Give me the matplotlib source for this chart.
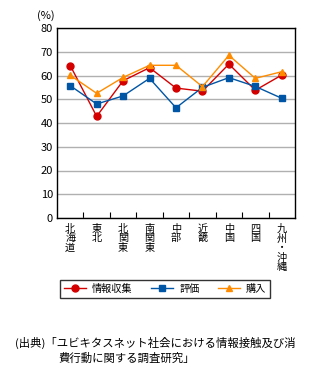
import numpy as np
import matplotlib
matplotlib.use('Agg')
import matplotlib.pyplot as plt
from matplotlib.ticker import FixedLocator

plt.rcParams['font.family'] = ['Noto Sans CJK JP', 'DejaVu Sans']

regions = ['北海道', '東北', '北関東', '南関東', '中部', '近畿', '中国', '四国', '九州・沖縄']
info = [64.2, 42.8, 57.8, 63.3, 54.7, 53.4, 64.8, 53.8, 60.2]
evaluation = [55.7, 48.0, 51.4, 58.8, 46.4, 55.0, 59.1, 55.4, 50.4]
purchase = [60.1, 52.5, 59.2, 64.3, 64.3, 55.3, 68.5, 58.8, 61.6]

fig = plt.figure(figsize=(3.32, 3.76), dpi=100)
ax = fig.add_axes([57/332, 1-218/376, (295-57)/332, (218-28)/376])

x = np.arange(len(regions))
ax.plot(x, info, color='#d40000', lw=1, marker='o', ms=5, label='情報収集', zorder=3)
ax.plot(x, evaluation, color='#0055a5', lw=1, marker='s', ms=5, label='評価', zorder=3)
ax.plot(x, purchase, color='#ff8c00', lw=1, marker='^', ms=5, label='購入', zorder=3)

ax.set_xlim(-0.5, len(regions)-0.5)
ax.set_ylim(0, 80)
ax.set_yticks(range(0, 81, 10))
ax.yaxis.grid(True, color='#b0b0b0', lw=1)
ax.set_axisbelow(True)
ax.tick_params(axis='y', length=0, labelsize=8, pad=3)
ax.set_xticks(x)
ax.set_xticklabels(['\n'.join(r) for r in regions], fontsize=7.3, linespacing=0.95, va='top')
ax.tick_params(axis='x', which='major', length=0, pad=4)
ax.xaxis.set_minor_locator(FixedLocator(np.arange(0.5, len(regions)-1, 1)))
ax.tick_params(axis='x', which='minor', direction='in', length=4, width=0.8)
for s in ax.spines.values():
    s.set_linewidth(1)
    s.set_color('black')

fig.text(37/332, 1-16/376, '(%)', fontsize=8, va='center', ha='left')

leg = fig.legend(loc='center', bbox_to_anchor=(165/332, 1-289/376), ncol=3, fontsize=7.3,
                 frameon=True, fancybox=False, edgecolor='black', handlelength=2.2,
                 columnspacing=1.8, borderpad=0.35, handletextpad=0.6)
leg.get_frame().set_linewidth(1)

fig.text(15/332, 1-343/376, '(出典)「ユビキタスネット社会における情報接触及び消', fontsize=8.2, va='center', ha='left')
fig.text(58/332, 1-358/376, '費行動に関する調査研究」', fontsize=8.2, va='center', ha='left')

fig.savefig('out.png', dpi=100)
